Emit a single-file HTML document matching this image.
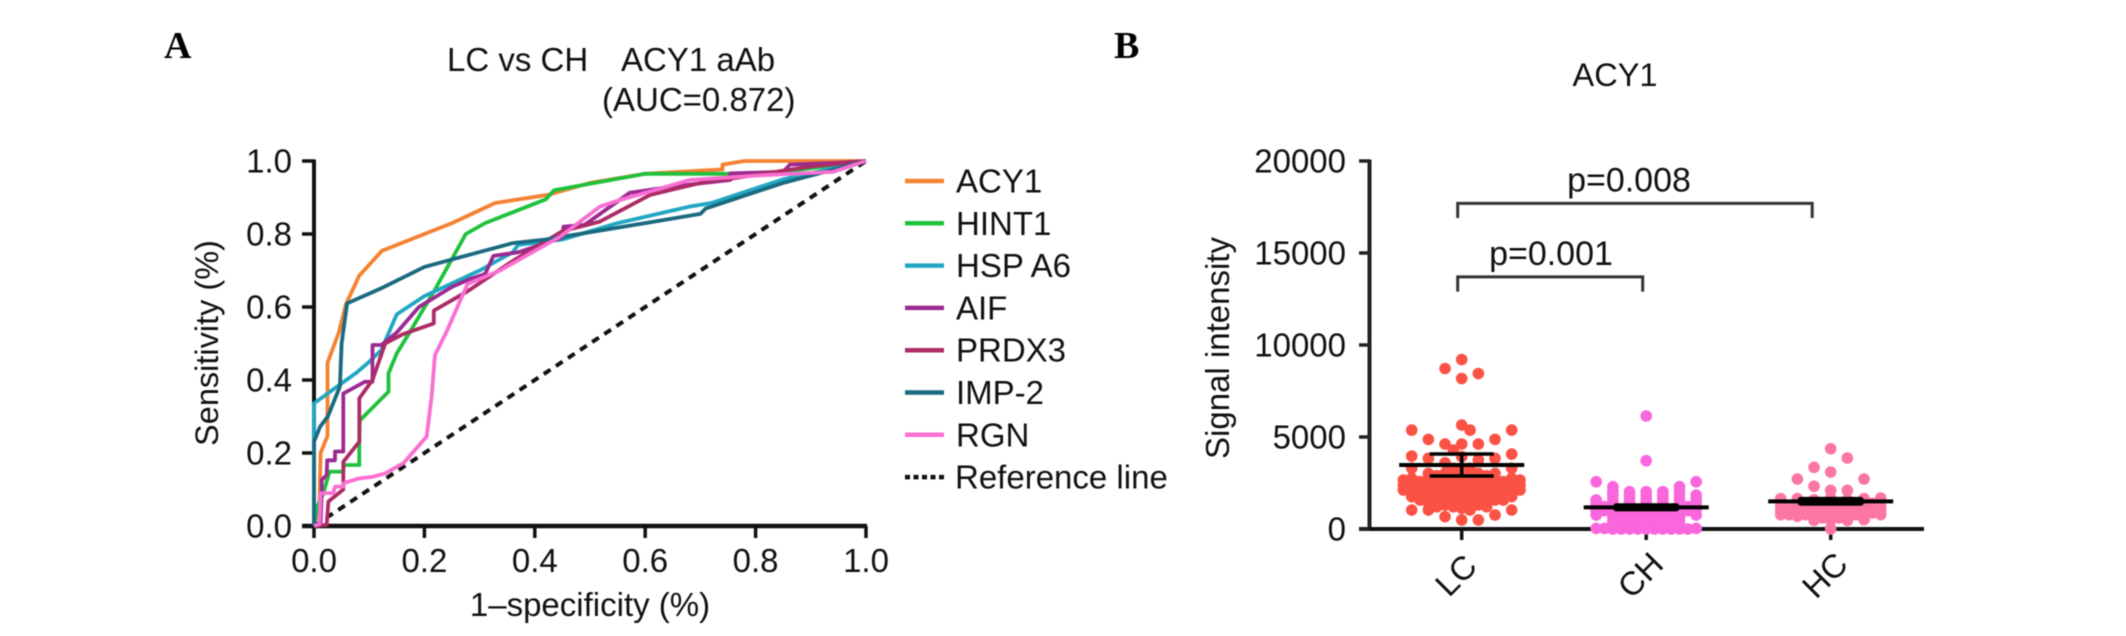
<!DOCTYPE html>
<html lang="en">
<head>
<meta charset="utf-8">
<title>ACY1 ROC curves and signal intensity</title>
<style>
html,body{margin:0;padding:0;background:#fff;}
svg{display:block;filter:blur(0.55px);}
text{font-family:"Liberation Sans",sans-serif;fill:#111;}
.panel{font-family:"Liberation Serif",serif;font-weight:bold;font-size:38px;fill:#000;}
</style>
</head>
<body>
<svg id="figure" width="2126" height="636" viewBox="0 0 2126 636" xmlns="http://www.w3.org/2000/svg">
  <rect width="2126" height="636" fill="#fff"/>
  <text class="panel" x="164" y="58">A</text>
  <text class="panel" x="1114" y="58">B</text>
  <text x="447" y="71" font-size="33">LC vs CH</text>
  <text x="621" y="71" font-size="33">ACY1 aAb</text>
  <text x="602" y="111" font-size="33">(AUC=0.872)</text>
  <text transform="translate(218,343) rotate(-90)" text-anchor="middle" font-size="32.5">Sensitivity (%)</text>
  <text x="590" y="616" text-anchor="middle" font-size="33">1–specificity (%)</text>
  <text x="1615" y="86" text-anchor="middle" font-size="32.5">ACY1</text>
  <text transform="translate(1229,348) rotate(-90)" text-anchor="middle" font-size="33">Signal intensity</text>
  <g id="roc-axes"></g>
  <g id="roc-lines"></g>
  <g id="roc-legend"></g>
  <g id="scatter-axes"></g>
  <g id="scatter-dots"></g>
  <g id="scatter-summary"></g>
  <g id="scatter-brackets"></g>
</svg>
<script>
/* ---------- ROC data ---------- */
const rocTicks = [0, 0.2, 0.4, 0.6, 0.8, 1];
const rocTickLabels = ['0.0', '0.2', '0.4', '0.6', '0.8', '1.0'];
const rocNames = ['ACY1', 'HINT1', 'HSP A6', 'AIF', 'PRDX3', 'IMP-2', 'RGN'];
const rocColors = ['#f58232', '#1fc13c', '#21a7c3', '#9b2a93', '#ad2c66', '#1a6a80', '#fa6fd2'];
const fprACY1 = [0, 0.01, 0.012, 0.0245, 0.0245, 0.045, 0.058, 0.082, 0.123, 0.2, 0.25, 0.328, 0.426, 0.5, 0.6, 0.74, 0.74, 0.78, 1];
const tprACY1 = [0, 0.065, 0.2, 0.247, 0.447, 0.53, 0.608, 0.686, 0.754, 0.8, 0.83, 0.885, 0.908, 0.94, 0.965, 0.977, 0.99, 1, 1];
const fprHINT1 = [0, 0.005, 0.017, 0.028, 0.053, 0.054, 0.082, 0.082, 0.083, 0.135, 0.135, 0.15, 0.174, 0.22, 0.275, 0.31, 0.42, 0.435, 0.6, 0.75, 0.85, 1];
const tprHINT1 = [0, 0.05, 0.09, 0.149, 0.149, 0.167, 0.167, 0.231, 0.289, 0.368, 0.418, 0.473, 0.532, 0.65, 0.8, 0.83, 0.895, 0.92, 0.965, 0.965, 0.97, 1];
const fprHSP = [0, 0, 0.04, 0.077, 0.1, 0.122, 0.15, 0.2, 0.3, 0.36, 0.37, 0.45, 0.55, 0.68, 0.72, 0.85, 1];
const tprHSP = [0, 0.336, 0.38, 0.42, 0.45, 0.482, 0.58, 0.63, 0.7, 0.75, 0.77, 0.785, 0.83, 0.875, 0.885, 0.95, 1];
const fprAIF = [0, 0.012, 0.014, 0.014, 0.023, 0.024, 0.038, 0.038, 0.053, 0.053, 0.092, 0.106, 0.106, 0.122, 0.15, 0.19, 0.25, 0.28, 0.31, 0.325, 0.37, 0.41, 0.45, 0.452, 0.49, 0.572, 0.65, 0.754, 0.754, 0.85, 0.862, 0.95, 1];
const tprAIF = [0, 0.01, 0.09, 0.126, 0.14, 0.18, 0.18, 0.204, 0.204, 0.363, 0.395, 0.395, 0.496, 0.496, 0.53, 0.6, 0.655, 0.675, 0.69, 0.74, 0.75, 0.77, 0.79, 0.82, 0.825, 0.913, 0.93, 0.948, 0.966, 0.97, 0.99, 0.995, 1];
const fprPRDX3 = [0, 0.023, 0.026, 0.053, 0.053, 0.082, 0.082, 0.106, 0.129, 0.16, 0.217, 0.217, 0.278, 0.364, 0.45, 0.518, 0.609, 0.72, 0.757, 0.9, 1];
const tprPRDX3 = [0, 0.003, 0.067, 0.1, 0.176, 0.231, 0.35, 0.4, 0.5, 0.525, 0.555, 0.59, 0.643, 0.73, 0.808, 0.834, 0.907, 0.947, 0.952, 0.985, 1];
const fprIMP2 = [0, 0, 0.011, 0.025, 0.047, 0.05, 0.06, 0.12, 0.2, 0.36, 0.42, 0.6, 0.7, 0.71, 0.85, 1];
const tprIMP2 = [0, 0.231, 0.272, 0.3, 0.382, 0.5, 0.61, 0.65, 0.71, 0.775, 0.785, 0.83, 0.855, 0.87, 0.94, 1];
const fprRGN = [0, 0.01, 0.012, 0.035, 0.038, 0.053, 0.053, 0.08, 0.107, 0.129, 0.162, 0.204, 0.213, 0.219, 0.24, 0.278, 0.337, 0.446, 0.518, 0.554, 0.681, 0.8, 0.94, 1];
const tprRGN = [0, 0.005, 0.09, 0.09, 0.108, 0.108, 0.117, 0.13, 0.135, 0.144, 0.172, 0.245, 0.354, 0.468, 0.532, 0.663, 0.7, 0.793, 0.875, 0.893, 0.948, 0.96, 0.97, 1];
const rocFpr = [fprACY1, fprHINT1, fprHSP, fprAIF, fprPRDX3, fprIMP2, fprRGN];
const rocTpr = [tprACY1, tprHINT1, tprHSP, tprAIF, tprPRDX3, tprIMP2, tprRGN];
const referenceLine = [0, 1];

/* ---------- Scatter data (values grouped into swarm lanes, left to right) ---------- */
const scatterGroups = ['LC', 'CH', 'HC'];
const scatterColors = ['#fb5245', '#fa66dc', '#fb76a3'];
const scatterTicks = [0, 5000, 10000, 15000, 20000];
const scatterTickLabels = ['0', '5000', '10000', '15000', '20000'];
const lcLanes = [
  [2660, 2390, 2120],
  [5375, 3960, 3300, 2750, 2480, 2210, 1940, 1755, 1030],
  [2570, 2300, 2030, 1755, 1575],
  [4870, 3840, 3020, 2750, 2480, 2030, 1755, 1395, 1030],
  [2900, 2660, 2300, 1940, 1650, 1395, 1210],
  [8720, 4615, 3600, 3020, 2750, 2480, 2000, 1755, 1505, 1305, 670],
  [4290, 3300, 2750, 2480, 2120, 1850, 1485, 1210],
  [9210, 8180, 5650, 4615, 3930, 3300, 3020, 2750, 2480, 2210, 1940, 1665, 1395, 1125, 490],
  [5375, 3300, 2750, 2480, 2120, 1850, 1575, 1300, 1030],
  [8450, 4615, 3750, 3020, 2750, 2480, 2000, 1755, 1505, 1305, 490],
  [2900, 2660, 2300, 1940, 1650, 1395, 1210],
  [4870, 3840, 3020, 2750, 2480, 2030, 1755, 1575, 760],
  [2570, 2300, 2030, 1755, 1575],
  [5375, 4070, 3300, 2750, 2480, 2210, 1940, 1755, 1030],
  [2660, 2390, 2120]
];
const chLanes = [
  [],
  [2570, 1575, 1395, 1210, 980, 760, 30],
  [1210, 1000, 30],
  [2300, 2060, 1845, 1620, 1395, 1120, 850, 620, 400, 180, 0],
  [900, 670, 440, 220, 0],
  [2030, 1850, 1665, 1485, 1305, 1080, 850, 620, 400, 180, 0],
  [800, 580, 360, 180, 0],
  [6140, 3710, 2030, 1850, 1665, 1485, 1305, 1120, 940, 710, 490, 250, 0],
  [800, 580, 360, 180, 0],
  [2030, 1850, 1665, 1485, 1305, 1080, 850, 620, 400, 180, 0],
  [900, 670, 440, 220, 0],
  [2300, 2060, 1845, 1620, 1395, 1120, 850, 620, 400, 180, 0],
  [1210, 1000, 0],
  [2570, 1845, 1620, 1395, 1080, 760, 30],
  []
];
const hcLanes = [
  [],
  [1650, 1230, 1000, 780],
  [1230, 1000, 780],
  [2715, 1650, 1400, 1140, 910, 690],
  [1400, 1140, 960, 780],
  [3350, 2320, 1590, 1365, 1140, 910, 690, 470],
  [1400, 1140, 960, 780, 600],
  [4360, 3095, 2100, 1680, 1400, 1140, 910, 690, 470, 0],
  [1400, 1140, 960, 780, 600],
  [3855, 2100, 1590, 1365, 1140, 910, 690, 470],
  [1400, 1140, 960, 780],
  [2715, 1650, 1400, 1140, 820, 510],
  [1400, 1140, 870],
  [1680, 1230, 1000, 780],
  []
];
const scatterLanes = [lcLanes, chLanes, hcLanes];
const groupMeans = [3475, 1177, 1502];
const groupErrLow = [2880, 1065, 1370];
const groupErrHigh = [4075, 1290, 1635];
const bracketFrom = [0, 0];
const bracketTo = [1, 2];
const bracketTop = [13700, 17700];
const bracketBottom = [12900, 16900];
const bracketLabels = ['p=0.001', 'p=0.008'];

/* ---------- Axis functions ---------- */
const NS = 'http://www.w3.org/2000/svg';
const rocX = v => 314 + v * 552;
const rocY = v => 526 - v * 365;
const scatY = v => 529 - v * 368 / 20000;
const groupX = i => 1461.7 + i * 184.5;
const laneStep = 8.33;

function make(tag, parent, attrs) {
  const el = document.createElementNS(NS, tag);
  for (const k in attrs) el.setAttribute(k, attrs[k]);
  parent.appendChild(el);
  return el;
}

/* ---------- ROC axes ---------- */
const rocAxes = document.getElementById('roc-axes');
let axisEl = make('line', rocAxes, {x1: rocX(0), x2: rocX(0), y1: rocY(1) - 1.5, y2: rocY(0), stroke: '#111', 'stroke-width': 4});


axisEl = make('line', rocAxes, {x1: 302, x2: rocX(1) + 1, y1: rocY(0), y2: rocY(0), stroke: '#111', 'stroke-width': 4.5});


rocTicks.forEach((t, i) => {
  const xt = make('line', rocAxes, {x1: rocX(t), x2: rocX(t), y1: rocY(0), y2: 538, stroke: '#111', 'stroke-width': 3.5});
  
  
  const xl = make('text', rocAxes, {x: rocX(t), y: 572, 'text-anchor': 'middle', 'font-size': 33});
  xl.textContent = rocTickLabels[i];
  
  
  const yt = make('line', rocAxes, {x1: 302, x2: rocX(0), y1: rocY(t), y2: rocY(t), stroke: '#111', 'stroke-width': 3.5});
  
  
  const yl = make('text', rocAxes, {x: 292, y: rocY(t) + 11.5, 'text-anchor': 'end', 'font-size': 33});
  yl.textContent = rocTickLabels[i];
  
  
});

/* ---------- ROC lines ---------- */
const rocLines = document.getElementById('roc-lines');
const refEl = make('line', rocLines, {
  x1: rocX(referenceLine[0]), y1: rocY(referenceLine[0]),
  x2: rocX(referenceLine[1]), y2: rocY(referenceLine[1]),
  stroke: '#111', 'stroke-width': 4, 'stroke-dasharray': '8 6.5'
});


rocNames.forEach((name, s) => {
  const pts = rocFpr[s].map((f, i) => rocX(f).toFixed(1) + ',' + rocY(rocTpr[s][i]).toFixed(1)).join(' ');
  const line = make('polyline', rocLines, {points: pts, fill: 'none', stroke: rocColors[s], 'stroke-width': 3.8, 'stroke-linejoin': 'round'});
  
  
});

/* ---------- Legend ---------- */
const rocLegend = document.getElementById('roc-legend');
const legendY = i => 181 + i * 42.3;
rocNames.forEach((name, s) => {
  const sw = make('line', rocLegend, {x1: 905, x2: 944, y1: legendY(s), y2: legendY(s), stroke: rocColors[s], 'stroke-width': 4.5});
  
  
  const lt = make('text', rocLegend, {x: 956, y: legendY(s) + 11.5, 'font-size': 33});
  lt.textContent = name;
  
  
});
const refSwatch = make('line', rocLegend, {x1: 905, x2: 944, y1: legendY(7), y2: legendY(7), stroke: '#111', 'stroke-width': 4.5, 'stroke-dasharray': '5 3.5'});


const refLabel = make('text', rocLegend, {x: 955, y: legendY(7) + 11.5, 'font-size': 33});
refLabel.textContent = 'Reference line';



/* ---------- Scatter axes ---------- */
const scatAxes = document.getElementById('scatter-axes');
let scatAxis = make('line', scatAxes, {x1: 1369.5, x2: 1369.5, y1: scatY(20000) - 1.5, y2: scatY(0), stroke: '#222', 'stroke-width': 4});


scatAxis = make('line', scatAxes, {x1: 1359, x2: 1924, y1: scatY(0), y2: scatY(0), stroke: '#111', 'stroke-width': 4});


scatterTicks.forEach((t, i) => {
  const yt = make('line', scatAxes, {x1: 1359, x2: 1369.5, y1: scatY(t), y2: scatY(t), stroke: '#222', 'stroke-width': 3.5});
  
  
  const yl = make('text', scatAxes, {x: 1346, y: scatY(t) + 11.5, 'text-anchor': 'end', 'font-size': 33});
  yl.textContent = scatterTickLabels[i];
  
  
});
scatterGroups.forEach((g, i) => {
  const xt = make('line', scatAxes, {x1: groupX(i), x2: groupX(i), y1: scatY(0), y2: 540, stroke: '#111', 'stroke-width': 3.5});
  
  
  const xl = make('text', scatAxes, {transform: 'translate(' + (groupX(i) - 6) + ',575) rotate(-45)', 'text-anchor': 'middle', dy: '0.35em', 'font-size': 33});
  xl.textContent = g;
  
  
});

/* ---------- Scatter dots ---------- */
const scatDots = document.getElementById('scatter-dots');
scatterLanes.forEach((lanes, g) => {
  lanes.forEach((values, lane) => {
    values.forEach(v => {
      const dot = make('circle', scatDots, {cx: groupX(g) + (lane - 7) * laneStep, cy: scatY(v), r: 5.8, fill: scatterColors[g]});
      
      
    });
  });
});

/* ---------- Mean and error bars ---------- */
const scatSummary = document.getElementById('scatter-summary');
scatterGroups.forEach((g, i) => {
  const cx = groupX(i);
  const mean = make('line', scatSummary, {x1: cx - 62.5, x2: cx + 62.5, y1: scatY(groupMeans[i]), y2: scatY(groupMeans[i]), stroke: '#000', 'stroke-width': 4});
  
  
  const yHi = scatY(groupErrHigh[i]);
  const yLo = scatY(groupErrLow[i]);
  if (yLo - yHi < 8) {
    const block = make('rect', scatSummary, {x: cx - 33, y: yHi - 2, width: 66, height: yLo - yHi + 4, rx: 3, fill: '#000'});
    
    
  } else {
    [yHi, yLo].forEach(y => {
      const cap = make('line', scatSummary, {x1: cx - 32, x2: cx + 32, y1: y, y2: y, stroke: '#000', 'stroke-width': 3.5});
      
      
    });
    const stem = make('line', scatSummary, {x1: cx, x2: cx, y1: yHi, y2: yLo, stroke: '#000', 'stroke-width': 3.5});
    
    
  }
});

/* ---------- Significance brackets ---------- */
const scatBrackets = document.getElementById('scatter-brackets');
bracketLabels.forEach((label, i) => {
  const x1 = groupX(bracketFrom[i]) - 4;
  const x2 = groupX(bracketTo[i]) - (bracketTo[i] === 2 ? 18.5 : 3.5);
  const top = scatY(bracketTop[i]);
  const bot = scatY(bracketBottom[i]);
  const br = make('path', scatBrackets, {d: 'M' + x1 + ' ' + bot + 'V' + top + 'H' + x2 + 'V' + bot, fill: 'none', stroke: '#333', 'stroke-width': 3});
  
  
  const tx = make('text', scatBrackets, {x: i === 0 ? 1551 : 1629, y: top - 12, 'text-anchor': 'middle', 'font-size': 34});
  tx.textContent = label;
  
  
});
</script>
</body>
</html>
